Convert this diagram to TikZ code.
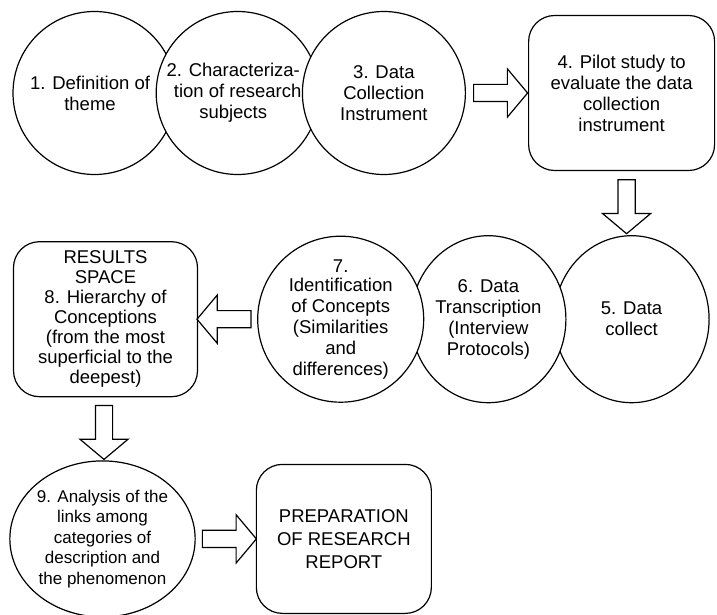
\documentclass[tikz,border=0pt]{standalone}
\usepackage{fontspec}
\setmainfont{Liberation Sans}
\usepackage{tikz}
\usetikzlibrary{shapes.geometric, shapes.arrows, positioning, calc}

\newcommand{\pad}{\hspace*{9pt}}

\begin{document}
\begin{tikzpicture}[
  circ/.style={circle, draw, fill=white, line width=1.2pt, minimum size=163pt, inner sep=0pt,
              align=center, font=\fontsize{18.5}{21}\selectfont},
  oval/.style={ellipse, draw, fill=white, line width=1.2pt, inner sep=0pt,
              align=center, font=\fontsize{18.5}{21}\selectfont},
  box/.style={rectangle, rounded corners=26pt, draw, line width=1.2pt, inner sep=0pt,
              align=center, font=\fontsize{18.5}{21}\selectfont},
  blockarrow/.style={single arrow, draw, line width=1.2pt, inner sep=8pt,
              minimum height=54pt, single arrow head extend=15.5pt,
              single arrow tip angle=100}
]
\useasboundingbox (0,0) rectangle (717pt,-615pt);

% first row
\node[circ] (c1) at (94.5pt,-93pt) {1. Definition of\pad\\theme\pad};
\node[circ, right=-21pt of c1] (c2) {2. Characteriza-\pad\\tion of research\pad\\subjects\pad};
\node[circ, right=-18pt of c2] (c3) {3. Data\\Collection\\Instrument};
\node[box, minimum width=186pt, minimum height=155pt, right=62pt of c3] (p4)
  {4. Pilot study to\\evaluate the data\\collection\\instrument};

% second row
\node[oval, minimum width=155pt, minimum height=167pt, below=64pt of p4, xshift=10pt] (c5)
  {5. Data\\collect};
\node[oval, minimum width=155pt, minimum height=167pt, left=-13pt of c5] (c6)
  {6. Data\\Transcription\\(Interview\\Protocols)};
\node[circ, minimum size=166pt, left=-14pt of c6] (c7)
  {7.\\[-2pt]Identification\\of Concepts\\(Similarities\\and\\differences)};
\node[box, minimum width=184pt, minimum height=155pt, left=59pt of c7,
      font=\fontsize{18.5}{20}\selectfont] (b8)
  {RESULTS\\SPACE\\8. Hierarchy of\\Conceptions\\(from the most\\superficial to the\\deepest)};

% third row
\node[oval, minimum width=165pt, minimum height=156pt, below=63pt of b8, xshift=-3pt,
      font=\fontsize{17}{20.5}\selectfont] (c9)
  {9. Analysis of the\\links among\\categories of\\description and\\the phenomenon};
\node[box, minimum width=175pt, minimum height=149pt, right=60pt of c9,
      font=\fontsize{18.5}{23}\selectfont] (r10)
  {PREPARATION\\OF RESEARCH\\REPORT};

% block arrows
\node[blockarrow] (a1) at ($(c3.east)!0.5!(p4.west)$) {};
\node[blockarrow, shape border rotate=270] (a2) at ($(p4.south)!0.5!(c5.north)$) {};
\node[blockarrow, shape border rotate=180] (a3) at ($(c7.west)!0.5!(b8.east)$) {};
\node[blockarrow, shape border rotate=270] (a4) at ($(b8.south)!0.5!(c9.north)$) {};
\node[blockarrow] (a5) at ($(c9.east)!0.5!(r10.west)$) {};

\end{tikzpicture}
\end{document}
